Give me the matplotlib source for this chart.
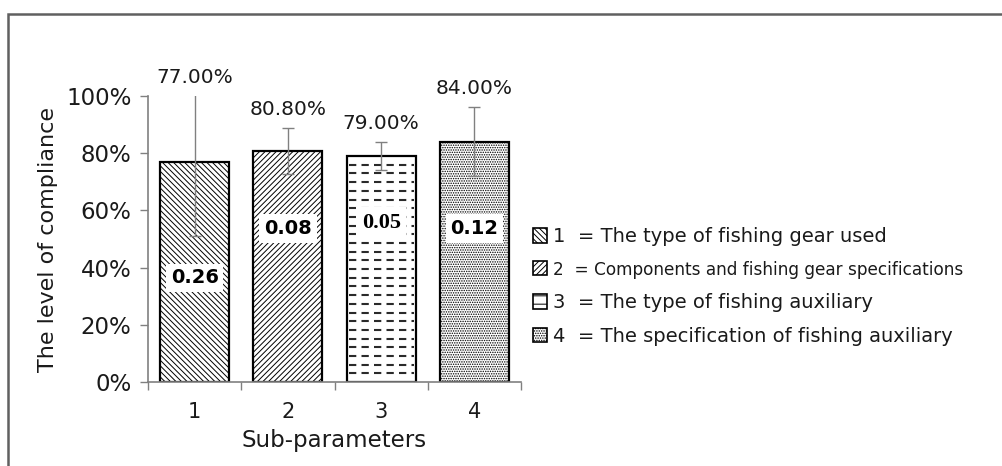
import matplotlib
matplotlib.use("Agg")
import matplotlib.pyplot as plt
from matplotlib.patches import Patch, Rectangle

# data
categories = ["1", "2", "3", "4"]
compliance = [0.77, 0.808, 0.79, 0.84]
std_dev = [0.26, 0.08, 0.05, 0.12]
value_labels = ["77.00%", "80.80%", "79.00%", "84.00%"]
std_labels = ["0.26", "0.08", "0.05", "0.12"]
legend_names = [
    "1  = The type of fishing gear used",
    "2  = Components and fishing gear specifications",
    "3  = The type of fishing auxiliary",
    "4  = The specification of fishing auxiliary",
]

# styling
hatches = ["\\\\\\\\\\\\", "//////", "", "......."]
std_label_y = [0.364, 0.538, 0.556, 0.538]
std_fonts = ["DejaVu Sans", "DejaVu Sans", "Liberation Serif", "DejaVu Sans"]
txt = "#1a1a1a"
grey = "#808080"

plt.rcParams["hatch.linewidth"] = 0.7
fig = plt.figure(figsize=(10.02, 4.66), dpi=100)
ax = fig.add_axes([0.1477, 0.180, 0.3723, 0.614])

x = list(range(1, len(categories) + 1))
bars = ax.bar(x, compliance, width=0.74, color="white", edgecolor="black",
              linewidth=1.6, zorder=2)
for b, h in zip(bars, hatches):
    b.set_hatch(h)

# dashed horizontal fill for bar 3
b3 = bars[2]
bx0, bw, bh = b3.get_x(), b3.get_width(), b3.get_height()
nrows = 26
for i in range(1, nrows):
    yy = bh * i / nrows
    ln, = ax.plot([bx0 + 0.03, bx0 + bw - 0.02], [yy, yy], color="#2a2a2a",
                  lw=1.5, ls=(0, (3.5, 2.5)), zorder=2.5)
    ln.set_clip_path(b3)

ax.errorbar(x, compliance, yerr=std_dev, fmt="none", ecolor=grey,
            elinewidth=1.0, capsize=4, capthick=1.0, zorder=3)

for xi, v, e, lab in zip(x, compliance, std_dev, value_labels):
    top = min(v + e, 1.0)
    ax.text(xi, top + 0.065, lab, ha="center", va="center", fontsize=14.5,
            color=txt, clip_on=False)

for xi, yy, lab, fam in zip(x, std_label_y, std_labels, std_fonts):
    ax.text(xi, yy, lab, ha="center", va="center",
            fontsize=14 if fam != "Liberation Serif" else 16,
            fontweight="bold", family=fam, color="black", zorder=4,
            bbox=dict(boxstyle="square,pad=0.25", fc="white", ec="none"))

ax.set_ylim(0, 1.0)
ax.set_xlim(0.5, len(categories) + 0.5)
ax.set_yticks([0, 0.2, 0.4, 0.6, 0.8, 1.0])
ax.set_yticklabels(["0%", "20%", "40%", "60%", "80%", "100%"], fontsize=16.5, color=txt)
ax.set_xticks([i + 0.5 for i in range(len(categories) + 1)])
ax.set_xticklabels([])
ax.set_xticks(x, minor=True)
ax.set_xticklabels(categories, minor=True, fontsize=15, color=txt)
ax.tick_params(axis="x", which="minor", length=0, pad=14)
ax.tick_params(axis="both", which="major", length=6, width=1, color=grey)
ax.tick_params(axis="y", pad=6)

for s in ["top", "right"]:
    ax.spines[s].set_visible(False)
for s in ["left", "bottom"]:
    ax.spines[s].set_color(grey)
    ax.spines[s].set_linewidth(1.2)

ax.set_ylabel("The level of compliance", fontsize=16, color=txt, labelpad=6)
ax.set_xlabel("Sub-parameters", fontsize=16.5, color=txt, labelpad=5)

handles = [Patch(facecolor="white", edgecolor="black", hatch=h if h else "--", lw=1.2)
           for h in hatches]
leg = fig.legend(handles, legend_names, loc="center left",
                 bbox_to_anchor=(0.514, 0.385), frameon=False, fontsize=14,
                 handlelength=0.75, handleheight=0.75, handletextpad=0.3,
                 labelspacing=0.75, labelcolor=txt)
leg.get_texts()[1].set_fontsize(12.2)

# outer frame of the original figure
fig.patches.append(Rectangle((0.008, -0.02), 1.05, 0.989, transform=fig.transFigure,
                             fill=False, ec="#606060", lw=1.8))

fig.savefig("out.png", dpi=100)
